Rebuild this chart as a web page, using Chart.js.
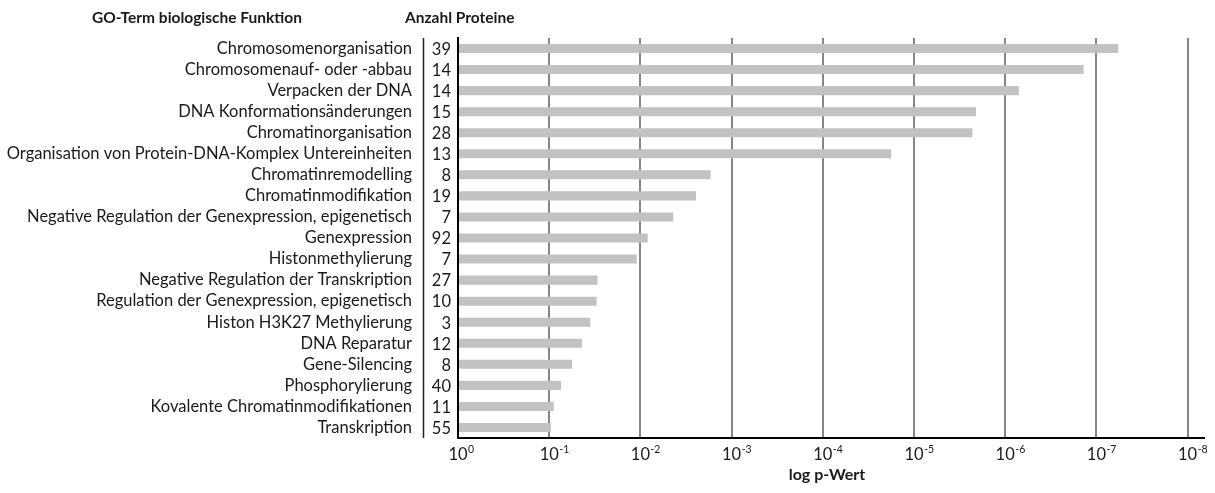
<!DOCTYPE html>
<html>
<head>
<meta charset="utf-8">
<script src="https://cdn.jsdelivr.net/npm/chart.js@4"></script>
<style>
html,body{margin:0;padding:0;background:#fff;}
#wrap{width:1215px;height:493px;position:relative;}
</style>
</head>
<body>
<div id="wrap"><canvas id="c" width="1215" height="493"></canvas></div>
<script>
const categories = [
  "Chromosomenorganisation",
  "Chromosomenauf- oder -abbau",
  "Verpacken der DNA",
  "DNA Konformationsänderungen",
  "Chromatinorganisation",
  "Organisation von Protein-DNA-Komplex Untereinheiten",
  "Chromatinremodelling",
  "Chromatinmodifikation",
  "Negative Regulation der Genexpression, epigenetisch",
  "Genexpression",
  "Histonmethylierung",
  "Negative Regulation der Transkription",
  "Regulation der Genexpression, epigenetisch",
  "Histon H3K27 Methylierung",
  "DNA Reparatur",
  "Gene-Silencing",
  "Phosphorylierung",
  "Kovalente Chromatinmodifikationen",
  "Transkription"
];
const proteinCounts = [39,14,14,15,28,13,8,19,7,92,7,27,10,3,12,8,40,11,55];
// -log10(p-value)
const negLogP = [7.24,6.86,6.15,5.68,5.64,4.75,2.77,2.61,2.36,2.08,1.96,1.53,1.52,1.45,1.36,1.25,1.13,1.05,1.02];
const tickExponents = [0,1,2,3,4,5,6,7,8];
const headerLeft = "GO-Term biologische Funktion";
const headerMid = "Anzahl Proteine";
const xTitle = "log p-Wert";

const FONT = "Lato, 'Liberation Sans', sans-serif";
const TXT = "#1a1a1a";

const overlay = {
  id: 'overlay',
  afterDraw(chart) {
    const ctx = chart.ctx;
    const xs = chart.scales.x, ys = chart.scales.y;
    const ca = chart.chartArea;
    ctx.save();
    // headers
    ctx.fillStyle = TXT;
    ctx.font = "bold 15.5px " + FONT;
    ctx.textBaseline = "middle";
    ctx.textAlign = "left";
    ctx.fillText(headerLeft, 92, 18);
    ctx.fillText(headerMid, 405, 18);
    // separator line
    ctx.strokeStyle = "#222";
    ctx.lineWidth = 1.5;
    ctx.beginPath();
    ctx.moveTo(423.5, ca.top);
    ctx.lineTo(423.5, ca.bottom);
    ctx.stroke();
    // counts
    ctx.font = "16.5px " + FONT;
    ctx.textAlign = "right";
    proteinCounts.forEach((n, i) => {
      ctx.fillText(String(n), 451, ys.getPixelForValue(i) + 1);
    });
    // x tick labels with superscripts
    tickExponents.forEach(e => {
      const px = xs.getPixelForValue(e);
      ctx.font = "16.5px " + FONT;
      ctx.textAlign = "center";
      ctx.textBaseline = "middle";
      ctx.fillText("10", px, 455);
      const w = ctx.measureText("10").width;
      ctx.font = "10.5px " + FONT;
      ctx.textAlign = "left";
      ctx.fillText(e === 0 ? "0" : "-" + e, px + w / 2 + 0.5, 450);
    });
    // x title
    ctx.font = "bold 16px " + FONT;
    ctx.textAlign = "center";
    ctx.textBaseline = "middle";
    ctx.fillText(xTitle, 827, 475);
    ctx.restore();
  }
};

new Chart(document.getElementById('c'), {
  type: 'bar',
  data: {
    labels: categories,
    datasets: [{
      data: negLogP,
      backgroundColor: '#c2c2c2',
      borderWidth: 0,
      barPercentage: 0.43,
      categoryPercentage: 1.0
    }]
  },
  options: {
    indexAxis: 'y',
    responsive: false,
    animation: false,
    devicePixelRatio: 1,
    layout: { padding: { top: 38, right: 11, bottom: 0, left: 0 } },
    plugins: { legend: { display: false }, tooltip: { enabled: false } },
    scales: {
      x: {
        type: 'linear',
        min: 0,
        max: 8.18,
        afterBuildTicks(scale) {
          scale.ticks = tickExponents.map(v => ({ value: v }));
        },
        afterFit(scale) { scale.height = 55; scale.paddingLeft = 0; scale.paddingRight = 0; },
        ticks: { display: false },
        grid: { color: '#868686', lineWidth: 2, drawTicks: false },
        border: { display: true, color: '#000', width: 2 }
      },
      y: {
        afterFit(scale) { scale.width = 458; scale.paddingTop = 0; scale.paddingBottom = 0; },
        ticks: {
          color: TXT,
          font: { family: FONT, size: 16.5 },
          padding: 46,
          autoSkip: false
        },
        grid: { display: false, drawTicks: false },
        border: { display: true, color: '#000', width: 2 }
      }
    }
  },
  plugins: [overlay]
});
</script>
</body>
</html>
